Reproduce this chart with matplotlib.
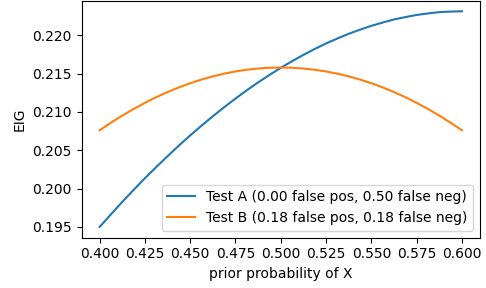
import matplotlib
matplotlib.use("Agg")
import matplotlib.pyplot as plt

# prior probability of X
prior = [0.4, 0.40625, 0.4125, 0.41875, 0.425, 0.43125, 0.4375, 0.44375,
         0.45, 0.45625, 0.4625, 0.46875, 0.475, 0.48125, 0.4875, 0.49375,
         0.5, 0.50625, 0.5125, 0.51875, 0.525, 0.53125, 0.5375, 0.54375,
         0.55, 0.55625, 0.5625, 0.56875, 0.575, 0.58125, 0.5875, 0.59375, 0.6]

# expected information gain
eig_a = [0.19500, 0.19664, 0.19827, 0.19983, 0.20135, 0.20281, 0.20423, 0.20561,
         0.20694, 0.20821, 0.20944, 0.21062, 0.21175, 0.21283, 0.21386, 0.21483,
         0.21576, 0.21663, 0.21745, 0.21822, 0.21894, 0.21959, 0.22020, 0.22074,
         0.22124, 0.22167, 0.22207, 0.22238, 0.22266, 0.22286, 0.22303, 0.22310, 0.22314]
eig_b = [0.20761, 0.20860, 0.20953, 0.21039, 0.21119, 0.21193, 0.21260, 0.21321,
         0.21375, 0.21423, 0.21465, 0.21500, 0.21529, 0.21551, 0.21567, 0.21577,
         0.21580, 0.21577, 0.21567, 0.21551, 0.21529, 0.21500, 0.21465, 0.21423,
         0.21375, 0.21321, 0.21260, 0.21193, 0.21119, 0.21039, 0.20953, 0.20860, 0.20761]

label_a = "Test A (0.00 false pos, 0.50 false neg)"
label_b = "Test B (0.18 false pos, 0.18 false neg)"

fig = plt.figure(figsize=(4.86, 2.88), dpi=100)
ax = fig.add_axes([81.5 / 486, 1 - 237.7 / 288, (480 - 81.5) / 486, 237.2 / 288])

ax.plot(prior, eig_a, label=label_a)
ax.plot(prior, eig_b, label=label_b)

ax.set_xlabel("prior probability of X")
ax.set_ylabel("EIG")
ax.set_xticks([0.4, 0.425, 0.45, 0.475, 0.5, 0.525, 0.55, 0.575, 0.6])
ax.set_yticks([0.195, 0.2, 0.205, 0.21, 0.215, 0.22])
ax.legend(loc="lower right")

fig.savefig("out.png", dpi=100)
